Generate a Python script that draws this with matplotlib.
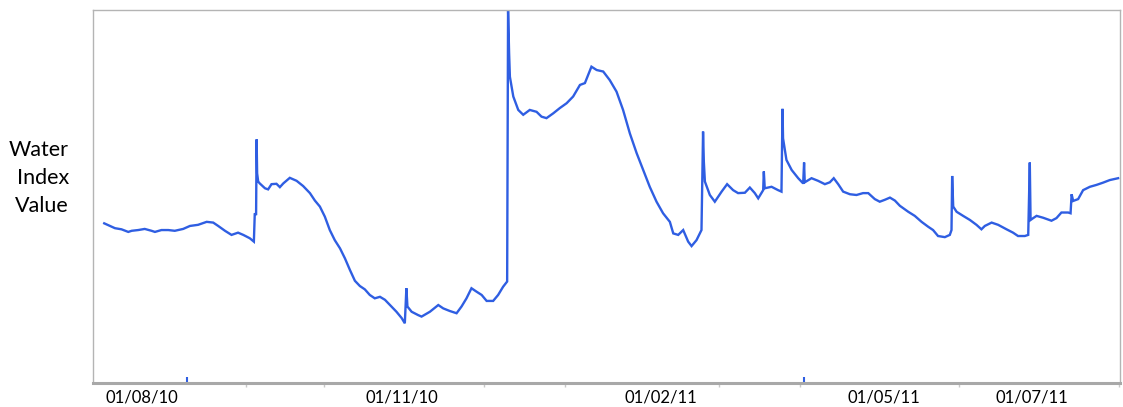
import numpy as np
import pandas as pd
import matplotlib
matplotlib.use("Agg")
import matplotlib.pyplot as plt
import matplotlib.dates as mdates
from matplotlib.transforms import ScaledTranslation

plt.rcParams['font.family'] = ['Lato', 'DejaVu Sans']

# days after 01/08/2010 and the water index reading at that time
days = [-23.2, -21.0, -19.1, -16.6, -14.0, -12.7, -10.2, -7.7, -5.1, -3.8,
        -1.3, 1.3, 3.8, 7.0, 9.6, 12.7, 16.0, 18.5, 20.4, 23.0,
        25.5, 28.0, 30.0, 32.5, 34.05, 34.4, 34.9, 35.1, 35.3, 35.7,
        36.3, 38.3, 39.5, 40.8, 42.7, 44.0, 45.3, 47.8, 50.4, 52.9,
        55.5, 57.4, 59.3, 61.2, 63.1, 65.0, 67.0, 68.9, 70.8, 72.7,
        74.6, 76.5, 78.4, 80.3, 82.3, 84.2, 86.1, 88.6, 90.6, 91.8,
        92.4, 92.8, 94.4, 96.9, 98.2, 101.4, 104.6, 106.5, 109.0, 111.6,
        113.5, 115.4, 117.3, 119.2, 121.2, 123.1, 125.6, 127.5, 129.4, 130.95,
        131.3, 131.7, 132.0, 133.3, 135.2, 137.1, 139.6, 142.2, 144.1, 146.0,
        148.6, 151.1, 153.7, 156.2, 158.8, 160.7, 163.2, 165.2, 167.7, 170.2,
        172.8, 175.3, 177.9, 180.5, 183.0, 185.5, 188.1, 190.6, 193.2, 194.5,
        196.4, 198.3, 200.2, 201.5, 203.4, 205.3, 205.9, 206.2, 206.6, 208.5,
        210.4, 213.0, 215.1, 217.4, 219.3, 221.9, 223.8, 225.7, 227.0, 228.9,
        229.15, 229.5, 232.1, 234.6, 235.9, 236.3, 236.5, 237.8, 239.8, 242.3,
        244.2, 244.55, 244.8, 247.4, 249.9, 252.5, 254.4, 255.9, 257.6, 259.5,
        262.1, 264.6, 267.1, 269.1, 271.6, 273.5, 275.4, 277.4, 279.3, 281.2,
        284.4, 286.9, 289.5, 292.0, 293.9, 295.8, 298.4, 300.3, 300.95, 301.2,
        301.6, 302.9, 305.4, 308.0, 310.5, 312.4, 313.7, 316.3, 318.8, 322.0,
        324.5, 326.4, 329.0, 330.3, 330.9, 331.2, 332.2, 333.5, 336.0, 339.2,
        341.1, 343.0, 345.6, 346.5, 346.9, 347.5, 349.4, 351.3, 353.9, 356.4,
        358.9, 361.5, 364.7]
index_value = [42.8, 42.1, 41.5, 41.2, 40.5, 40.8, 41.0, 41.3, 40.8, 40.5,
               41.0, 41.0, 40.8, 41.3, 42.1, 42.4, 43.2, 43.0, 42.1, 40.8,
               39.7, 40.3, 39.7, 38.8, 37.9, 45.5, 45.0, 65.3, 56.2, 54.0,
               53.5, 52.2, 51.9, 53.3, 53.4, 52.5, 53.5, 55.0, 54.2, 52.8,
               50.9, 48.9, 47.3, 44.6, 41.0, 38.3, 36.1, 33.4, 30.3, 27.4,
               26.0, 25.1, 23.6, 22.7, 23.1, 22.3, 20.9, 19.1, 17.4, 16.0,
               25.4, 20.5, 19.1, 18.2, 17.8, 19.1, 20.9, 20.0, 19.3, 18.7,
               20.5, 22.7, 25.4, 24.5, 23.6, 22.0, 22.0, 23.6, 25.8, 27.2,
               100.0, 88.4, 82.1, 76.8, 73.2, 71.9, 73.2, 72.7, 71.4, 71.0,
               72.3, 73.7, 75.0, 76.8, 79.9, 80.4, 84.8, 83.9, 83.5, 81.2,
               78.1, 73.2, 66.9, 61.6, 57.1, 52.6, 48.6, 45.5, 43.2, 40.1,
               39.7, 41.0, 37.9, 36.7, 38.3, 41.0, 67.4, 59.3, 54.0, 50.4,
               48.6, 51.3, 53.3, 51.7, 50.9, 51.0, 52.4, 50.9, 49.5, 51.7,
               56.7, 52.2, 52.6, 51.7, 51.3, 73.5, 65.6, 59.8, 57.1, 54.9,
               53.5, 59.1, 53.8, 54.9, 54.2, 53.3, 53.8, 54.9, 53.3, 51.3,
               50.6, 50.4, 50.9, 50.9, 49.3, 48.6, 49.1, 49.7, 48.9, 47.5,
               45.9, 44.8, 43.2, 41.9, 41.0, 39.4, 39.1, 39.7, 41.0, 55.5,
               47.3, 45.9, 44.8, 43.7, 42.4, 41.2, 42.1, 43.0, 42.4, 41.2,
               40.3, 39.4, 39.4, 39.7, 59.1, 43.7, 44.2, 44.8, 44.3, 43.5,
               44.2, 45.7, 45.7, 45.5, 50.6, 48.8, 49.3, 51.7, 52.6, 53.1,
               53.7, 54.4, 54.9]

# isolated low readings sitting on the bottom of the scale
low_days = [8.4, 244.4]
low_value = [0.8, 0.8]

tick_dates = ['2010-08-01', '2010-11-01', '2011-02-01', '2011-05-01', '2011-07-01']
tick_labels = ['01/08/10', '01/11/10', '01/02/11', '01/05/11', '01/07/11']

start = pd.Timestamp('2010-08-01')
x = start + pd.to_timedelta(days, unit='D')
x_low = start + pd.to_timedelta(low_days, unit='D')

fig = plt.figure(figsize=(11.23, 4.07), dpi=100)
ax = fig.add_axes([0.0828, 0.059, 0.9145, 0.9165])

blue = '#2f5ee2'
ax.plot(x, index_value, color=blue, lw=1.7, solid_joinstyle='miter')
ax.plot(x_low, low_value, ls='none', marker='|', ms=4, mew=1.5, color=blue)

ax.set_xlim(start + pd.Timedelta(days=-27.5), start + pd.Timedelta(days=365.4))
ax.set_ylim(0, 100)

ax.set_yticks([])
ax.set_xticks(pd.to_datetime(tick_dates))
ax.set_xticklabels(tick_labels, fontsize=12)
ax.tick_params(axis='x', which='major', length=0, pad=5)
ax.xaxis.set_minor_locator(mdates.MonthLocator())
ax.tick_params(axis='x', which='minor', length=3, color='#c8c8c8', width=1)

# the date labels do not sit exactly centred on their month marks
label_shift = [-23, -3, 15, 5, -6]
for lab, dx in zip(ax.get_xticklabels(), label_shift):
    lab.set_transform(lab.get_transform() + ScaledTranslation(dx / 100, 0, fig.dpi_scale_trans))

for side in ['top', 'right', 'left']:
    ax.spines[side].set_color('#b4b4b4')
    ax.spines[side].set_linewidth(1.0)
ax.spines['bottom'].set_color('#a8a8a8')
ax.spines['bottom'].set_linewidth(2.2)

fig.text(0.0615, 0.5627, 'Water\nIndex\nValue', fontsize=15.5, ha='right', va='center',
         multialignment='right', linespacing=1.5)

fig.savefig('out.png', dpi=100)
